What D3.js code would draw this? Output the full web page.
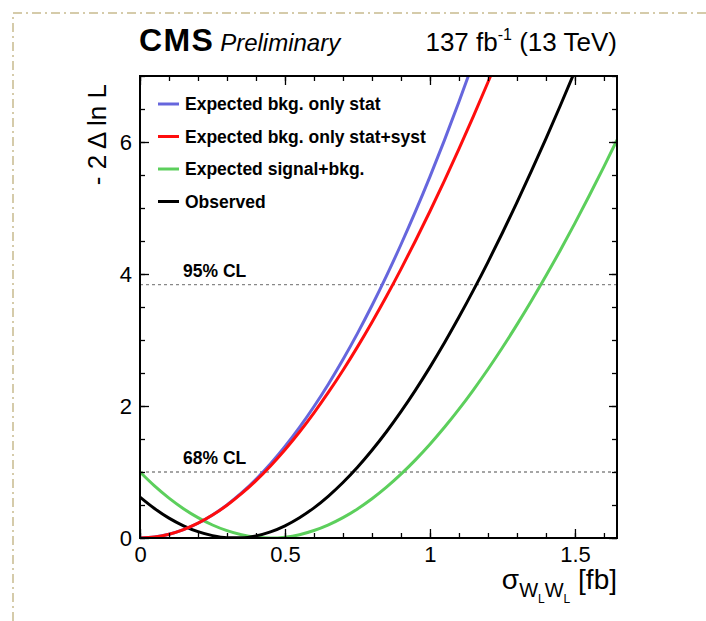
<!DOCTYPE html>
<html><head><meta charset="utf-8">
<script src="https://cdn.jsdelivr.net/npm/d3@7"></script>
<style>
body{margin:0;background:#fff;}
svg text{font-family:"Liberation Sans",Arial,Helvetica,sans-serif;}
</style></head>
<body><svg id="c" width="706" height="621"></svg>
<script>
// ---- data ----
const sigma = [0,0.05,0.1,0.15,0.2,0.25,0.3,0.35,0.4,0.45,0.5,0.55,0.6,0.65,0.7,0.75,0.8,0.85,0.9,0.95,1.0,1.05,1.1,1.15,1.2,1.25,1.3,1.35,1.4,1.45,1.5,1.55,1.6,1.645];
const expStat = [0,0.014,0.056,0.126,0.224,0.349,0.502,0.682,0.890,1.125,1.387,1.676,1.992,2.334,2.704,3.100,3.522,3.971,4.447,4.948,5.476,6.029,6.609,7.214,7.845,null,null,null,null,null,null,null,null,null];
const expStatSyst = [0,0.014,0.057,0.127,0.224,0.347,0.496,0.671,0.869,1.092,1.338,1.606,1.897,2.209,2.542,2.896,3.270,3.662,4.074,4.504,4.951,5.415,5.896,6.393,6.905,7.433,null,null,null,null,null,null,null,null];
const expSigBkg = [1.0,0.789,0.604,0.444,0.308,0.197,0.111,0.049,0.012,0,0.013,0.050,0.113,0.199,0.308,0.440,0.594,0.770,0.967,1.184,1.421,1.677,1.952,2.246,2.557,2.886,3.233,3.595,3.973,4.364,4.771,5.193,5.628,6.03];
const observed = [0.62,0.447,0.301,0.185,0.096,0.036,0.005,0.003,0.032,0.093,0.185,0.307,0.457,0.636,0.841,1.072,1.329,1.610,1.914,2.241,2.589,2.958,3.347,3.755,4.181,4.625,5.085,5.561,6.052,6.557,7.076,7.606,null,null];
const seriesNames = ["Expected bkg. only stat","Expected bkg. only stat+syst","Expected signal+bkg.","Observed"];
const seriesColors = ["#6666dd","#ff0d0d","#5ccf5c","#000000"];
const clLevels = [3.84, 1.0];
const clLabels = ["95% CL","68% CL"];
const xMajor = [0,0.5,1,1.5];
const xMinor = d3.range(0,1.65,0.1);
const yMajor = [0,2,4,6];
const yMinor = d3.range(0,7.01,0.5);

// ---- layout ----
const L=140,R=617,T=76,B=538;
const svg=d3.select("#c");
const x=d3.scaleLinear().domain([0,1.645]).range([L,R]);
const y=d3.scaleLinear().domain([0,7]).range([B,T]);

// decorative dash-dot border
svg.append("path").attr("d",`M13,621 L13,13 L706,13`).attr("fill","none")
  .attr("stroke","#c8bb8e").attr("stroke-width",1.5).attr("stroke-dasharray","9,4,2,4");

svg.append("defs").append("clipPath").attr("id","clip").append("rect")
  .attr("x",L).attr("y",T).attr("width",R-L).attr("height",B-T);

// CL dashed lines
clLevels.forEach((v,i)=>{
  svg.append("line").attr("x1",L).attr("x2",R).attr("y1",y(v)).attr("y2",y(v))
    .attr("stroke","#888").attr("stroke-width",1.3).attr("stroke-dasharray","3,3");
  svg.append("text").attr("x",183).attr("y",y(v)-8).attr("font-size",17.5).attr("font-weight","bold")
    .text(clLabels[i]);
});

// curves
const allSeries=[expStat,expStatSyst,expSigBkg,observed];
const line=d3.line().defined(d=>d[1]!=null).x(d=>x(d[0])).y(d=>y(d[1])).curve(d3.curveMonotoneX);
const g=svg.append("g").attr("clip-path","url(#clip)");
[2,3,0,1].forEach(k=>{
  g.append("path").datum(sigma.map((s,i)=>[s,allSeries[k][i]]))
   .attr("d",line).attr("fill","none").attr("stroke",seriesColors[k]).attr("stroke-width",3);
});

// axes
function styleAxis(sel){sel.select(".domain").remove();sel.selectAll("line").attr("stroke","#000").attr("stroke-width",1.3);}
const bx=svg.append("g").attr("transform",`translate(0,${B})`)
  .call(d3.axisBottom(x).tickValues(xMajor).tickSizeInner(-9).tickSizeOuter(0).tickPadding(8).tickFormat(d3.format("")));
styleAxis(bx); bx.selectAll("text").attr("font-size",22).attr("fill","#000").attr("font-family","Liberation Sans, Arial");
styleAxis(svg.append("g").attr("transform",`translate(0,${B})`).call(d3.axisBottom(x).tickValues(xMinor).tickSizeInner(-5).tickSizeOuter(0).tickFormat("")));
styleAxis(svg.append("g").attr("transform",`translate(0,${T})`).call(d3.axisTop(x).tickValues(xMajor).tickSizeInner(-9).tickSizeOuter(0).tickFormat("")));
styleAxis(svg.append("g").attr("transform",`translate(0,${T})`).call(d3.axisTop(x).tickValues(xMinor).tickSizeInner(-5).tickSizeOuter(0).tickFormat("")));
const ly=svg.append("g").attr("transform",`translate(${L},0)`)
  .call(d3.axisLeft(y).tickValues(yMajor).tickSizeInner(-9).tickSizeOuter(0).tickPadding(8).tickFormat(d3.format("")));
styleAxis(ly); ly.selectAll("text").attr("font-size",22).attr("fill","#000").attr("font-family","Liberation Sans, Arial");
styleAxis(svg.append("g").attr("transform",`translate(${L},0)`).call(d3.axisLeft(y).tickValues(yMinor).tickSizeInner(-5).tickSizeOuter(0).tickFormat("")));
styleAxis(svg.append("g").attr("transform",`translate(${R},0)`).call(d3.axisRight(y).tickValues(yMajor).tickSizeInner(-8).tickSizeOuter(0).tickFormat("")));
styleAxis(svg.append("g").attr("transform",`translate(${R},0)`).call(d3.axisRight(y).tickValues(yMinor).tickSizeInner(-5).tickSizeOuter(0).tickFormat("")));

// frame
svg.append("rect").attr("x",L).attr("y",T).attr("width",R-L).attr("height",B-T)
  .attr("fill","none").attr("stroke","#000").attr("stroke-width",2);

// legend
seriesNames.forEach((n,i)=>{
  const yy=104+i*32.5;
  svg.append("line").attr("x1",158).attr("x2",179).attr("y1",yy).attr("y2",yy)
    .attr("stroke",seriesColors[i]).attr("stroke-width",3);
  svg.append("text").attr("x",185).attr("y",yy+6).attr("font-size",17.5).attr("font-weight","bold").text(n);
});

// titles
const t1=svg.append("text").attr("x",139).attr("y",51);
t1.append("tspan").attr("font-size",32).attr("font-weight","bold").attr("letter-spacing",-0.8).attr("textLength",73).text("CMS");
t1.append("tspan").attr("font-size",24).attr("font-style","italic").attr("dx",6).text("Preliminary");
const t2=svg.append("text").attr("x",617).attr("y",51).attr("text-anchor","end").attr("font-size",26);
t2.append("tspan").text("137 fb");
t2.append("tspan").attr("font-size",16).attr("dy",-11).text("-1");
t2.append("tspan").attr("dy",11).text(" (13 TeV)");

// y title
svg.append("text").attr("transform","translate(106,84) rotate(-90)").attr("text-anchor","end")
  .attr("font-size",26).text("- 2 \u0394 ln L");

// x title
const xt=svg.append("text").attr("x",617).attr("y",589).attr("text-anchor","end").attr("font-size",28);
xt.append("tspan").text("\u03c3");
xt.append("tspan").attr("font-size",20).attr("dy",8).text("W");
xt.append("tspan").attr("font-size",12).attr("dy",6).text("L");
xt.append("tspan").attr("font-size",20).attr("dy",-6).text("W");
xt.append("tspan").attr("font-size",12).attr("dy",6).text("L");
xt.append("tspan").attr("dy",-14).text(" [fb]");
</script></body></html>
